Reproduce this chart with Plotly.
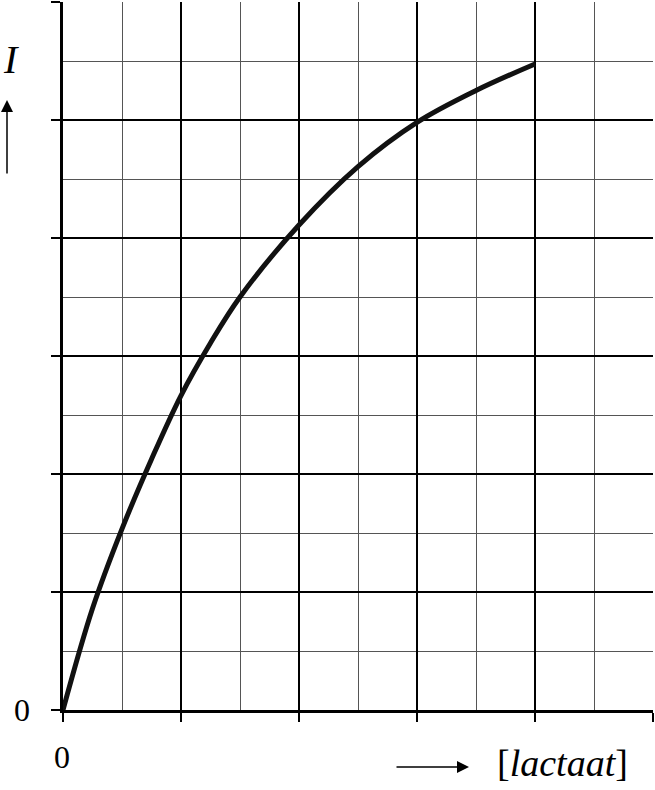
import plotly.graph_objects as go

# data (x and y in minor-grid units)
lactaat = [0, 0.5, 1.0, 1.5, 2.0, 2.5, 3.0, 4.0, 5.0, 6.0, 7.0, 8.0]
intensity = [0, 1.72, 3.07, 4.25, 5.33, 6.22, 7.0, 8.22, 9.21, 9.96, 10.5, 10.95]
x_major = [0, 2, 4, 6, 8, 10]
y_major = [0, 2, 4, 6, 8, 10, 12]

FONT = "Liberation Serif, Times New Roman, serif"

fig = go.Figure()
fig.add_trace(go.Scatter(
    x=lactaat, y=intensity, mode="lines",
    line=dict(color="#111111", width=5, shape="spline", smoothing=1.0),
    hoverinfo="skip", showlegend=False))

axis_common = dict(
    tickmode="array", showticklabels=False,
    ticks="outside", ticklen=9, tickwidth=2, tickcolor="black",
    showgrid=True, gridcolor="black", gridwidth=2,
    zeroline=False, showline=True, linecolor="black", linewidth=3,
    minor=dict(tickmode="linear", tick0=0, dtick=1, showgrid=True,
               gridcolor="#555555", gridwidth=1, ticks=""),
    fixedrange=True,
)

fig.update_xaxes(range=[0, 10], tickvals=x_major, **axis_common)
fig.update_yaxes(range=[0, 12], tickvals=y_major, **axis_common)

W, H = 655, 790
L, R, T, B = 63, 2, 2, 80
pw, ph = W - L - R, H - T - B

def px(xp):
    return (xp - L) / pw

def py(yp):
    return (H - B - yp) / ph

annotations = [
    dict(x=px(22), y=py(710), text="0", font=dict(family=FONT, size=32, color="black")),
    dict(x=px(62), y=py(757), text="0", font=dict(family=FONT, size=32, color="black")),
    dict(x=px(11), y=py(59), text="<i>I</i>", font=dict(family=FONT, size=40, color="black")),
    dict(x=px(562), y=py(763), text="[<i>lactaat</i>]", font=dict(family=FONT, size=38, color="black")),
]
for a in annotations:
    a.update(xref="paper", yref="paper", showarrow=False, xanchor="center", yanchor="middle")

# arrows
annotations.append(dict(xref="paper", yref="paper", x=px(7), y=py(100), text="",
                        showarrow=True, axref="pixel", ayref="pixel", ax=0, ay=75,
                        arrowhead=2, arrowsize=1.6, arrowwidth=1.5, arrowcolor="black"))
annotations.append(dict(xref="paper", yref="paper", x=px(469), y=py(767), text="",
                        showarrow=True, axref="pixel", ayref="pixel", ax=-74, ay=0,
                        arrowhead=2, arrowsize=1.6, arrowwidth=1.5, arrowcolor="black"))

fig.update_layout(
    width=W, height=H,
    margin=dict(l=L, r=R, t=T, b=B),
    paper_bgcolor="white", plot_bgcolor="white",
    annotations=annotations,
    showlegend=False,
)

fig.write_html("out.html", config={"displayModeBar": False},
               post_script="document.body.style.margin='0';document.body.style.overflow='hidden';")
